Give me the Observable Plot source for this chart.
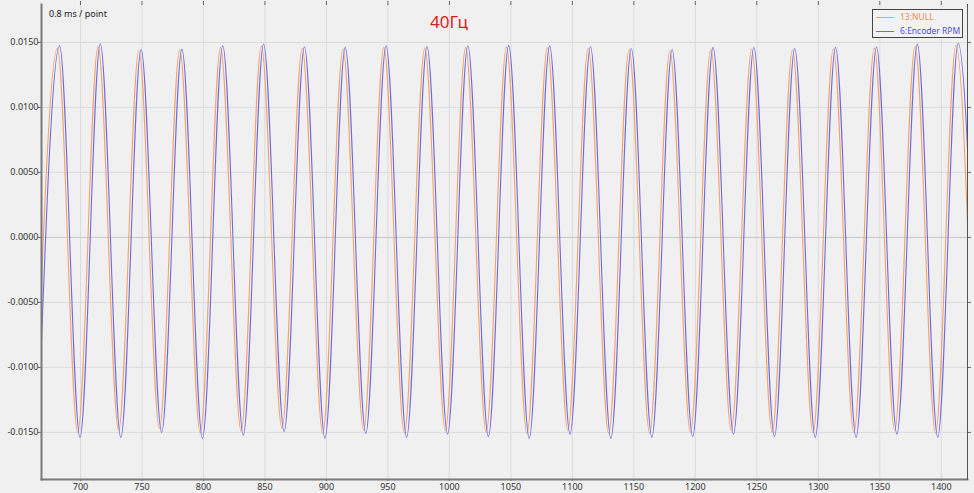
<!DOCTYPE html>
<html>
<head>
<meta charset="utf-8">
<script src="https://cdn.jsdelivr.net/npm/d3@7"></script>
<script src="https://cdn.jsdelivr.net/npm/@observablehq/plot@0.6"></script>
<style>
  html, body { margin: 0; padding: 0; background: #f0f0f0; }
  #wrap { position: relative; width: 974px; height: 493px; font-family: "Noto Sans", "Open Sans", sans-serif; }
  #wrap svg { position: absolute; left: 0; top: 0; }
  .note { position: absolute; left: 49px; top: 7px; font-size: 9px; color: #222; }
  .title { position: absolute; left: 430px; top: 13px; font-size: 17px; color: #e01b1b; line-height: 1; }
  .legend { position: absolute; left: 872px; top: 9px; width: 89px; height: 27px; border: 1px solid #444; background: #f2f2f2; font-size: 8.5px; }
  .legend .row { position: absolute; left: 3px; height: 12px; white-space: nowrap; }
  .legend .swatch { position: absolute; left: 0; top: 6px; width: 18px; height: 1px; }
  .legend .lbl { position: absolute; left: 24px; top: 0; line-height: 12px; white-space: nowrap; }
</style>
</head>
<body>
<div id="wrap">
  <div class="note">0.8 ms / point</div>
  <div class="title">40Гц</div>
  <div class="legend" id="legend"></div>
</div>
<script>
// Series names and colours
const seriesNames = ["13:NULL", "6:Encoder RPM"];
const seriesColors = ["#f4a36c", "#6c6ce2"];
const labelColors = ["#f08a4c", "#5050d6"];

// Axis ticks
const xTicks = [700, 750, 800, 850, 900, 950, 1000, 1050, 1100, 1150, 1200, 1250, 1300, 1350, 1400];
const yTicks = [-0.015, -0.01, -0.005, 0, 0.005, 0.01, 0.015];
const xDomain = [668.3, 1421.3];
const yDomain = [-0.01862, 0.01792];

// 6:Encoder RPM (blue) — extrema
const bluePeakX = [683.0, 716.1, 749.3, 782.5, 815.7, 848.9, 882.1, 915.3, 948.5, 981.8, 1015.0, 1048.2, 1081.5, 1114.7, 1147.9, 1181.1, 1214.4, 1247.6, 1280.8, 1314.0, 1347.3, 1380.5, 1413.7];
const bluePeakY = [0.01475, 0.01490, 0.01446, 0.01449, 0.01475, 0.01488, 0.01467, 0.01462, 0.01475, 0.01469, 0.01475, 0.01476, 0.01474, 0.01469, 0.01454, 0.01446, 0.01462, 0.01461, 0.01454, 0.01462, 0.01467, 0.01487, 0.01492];
const blueTroughX = [665.4, 699.6, 732.8, 766.0, 799.2, 832.4, 865.6, 898.8, 932.0, 965.2, 998.5, 1031.7, 1064.9, 1098.1, 1131.3, 1164.6, 1197.8, 1231.0, 1264.3, 1297.5, 1330.7, 1363.9, 1397.1, 1430.3];
const blueTroughY = [-0.0153, -0.01538, -0.01540, -0.01500, -0.01546, -0.01521, -0.01495, -0.01546, -0.01508, -0.01538, -0.01513, -0.01533, -0.01546, -0.01513, -0.01546, -0.01538, -0.01533, -0.01513, -0.01533, -0.01538, -0.01538, -0.01513, -0.01538, -0.0153];

// 13:NULL (orange) — extrema
const orangePeakX = [681.2, 714.3, 747.5, 780.7, 813.9, 847.1, 880.3, 913.5, 946.7, 980.0, 1013.2, 1046.4, 1079.7, 1112.9, 1146.1, 1179.3, 1212.6, 1245.8, 1279.0, 1312.2, 1345.5, 1378.7, 1411.9];
const orangePeakY = [0.01455, 0.01470, 0.01440, 0.01445, 0.01462, 0.01472, 0.01455, 0.01450, 0.01462, 0.01458, 0.01462, 0.01464, 0.01460, 0.01456, 0.01445, 0.01438, 0.01452, 0.01450, 0.01444, 0.01452, 0.01455, 0.01472, 0.01478];
const orangeTroughX = [663.6, 697.8, 731.0, 764.2, 797.4, 830.6, 863.8, 897.0, 930.2, 963.4, 996.7, 1029.9, 1063.1, 1096.3, 1129.5, 1162.8, 1196.0, 1229.2, 1262.5, 1295.7, 1328.9, 1362.1, 1395.3, 1427.0];
const orangeTroughY = [-0.0150, -0.01502, -0.01485, -0.01470, -0.01505, -0.01490, -0.01470, -0.01508, -0.01480, -0.01505, -0.01485, -0.01500, -0.01510, -0.01485, -0.01510, -0.01505, -0.01500, -0.01485, -0.01500, -0.01505, -0.01502, -0.01485, -0.01505, -0.0150];

function build(px, py, tx, ty) {
  const pts = px.map((x, i) => ({x, y: py[i]})).concat(tx.map((x, i) => ({x, y: ty[i]})));
  return pts.sort((a, b) => a.x - b.x);
}
const orange = build(orangePeakX, orangePeakY, orangeTroughX, orangeTroughY);
const blue = build(bluePeakX, bluePeakY, blueTroughX, blueTroughY);

const chart = Plot.plot({
  width: 974,
  height: 493,
  marginLeft: 41,
  marginRight: 7,
  marginTop: 4,
  marginBottom: 14,
  style: {background: "transparent", fontFamily: "'Noto Sans', 'Open Sans', sans-serif", fontSize: "9px", color: "#333"},
  x: {domain: xDomain, axis: null, label: null},
  y: {domain: yDomain, axis: null, label: null},
  marks: [
    Plot.gridX(xTicks, {stroke: "#dcdcdc", strokeOpacity: 1}),
    Plot.gridY(yTicks.filter(d => d !== 0), {stroke: "#dcdcdc", strokeOpacity: 1}),
    Plot.ruleY([0], {stroke: "#c6c6c6"}),
    Plot.line(orange, {x: "x", y: "y", curve: "monotone-x", stroke: seriesColors[0], strokeWidth: 1.1, clip: true}),
    Plot.line(blue, {x: "x", y: "y", curve: "monotone-x", stroke: seriesColors[1], strokeWidth: 1.1, clip: true}),
    Plot.axisX(xTicks, {anchor: "bottom", label: null, tickSize: 2, tickPadding: 2, tickFormat: d => String(d), stroke: "#666", fill: "#333"}),
    Plot.axisX(xTicks, {anchor: "top", label: null, tickSize: 4, text: null, stroke: "#666"}),
    Plot.axisY(yTicks, {anchor: "left", label: null, tickSize: 3, tickPadding: 0, tickFormat: d => d.toFixed(4), stroke: "#666", fill: "#333"}),
    Plot.axisY(yTicks, {anchor: "right", label: null, tickSize: 3, text: null, stroke: "#666"}),
    Plot.frame({anchor: "left", stroke: "#7a7a7a", strokeWidth: 2}),
    Plot.frame({anchor: "bottom", stroke: "#7a7a7a", strokeWidth: 2}),
    Plot.frame({anchor: "right", stroke: "#555", strokeWidth: 1})
  ]
});
const wrap = document.getElementById("wrap");
wrap.insertBefore(chart, wrap.firstChild);

const legend = document.getElementById("legend");
seriesNames.forEach((name, i) => {
  const row = document.createElement("div");
  row.className = "row";
  row.style.top = (1 + i * 14) + "px";
  row.innerHTML = `<span class="swatch" style="background:${seriesColors[i]}"></span><span class="lbl" style="color:${labelColors[i]}">${name}</span>`;
  legend.appendChild(row);
});
</script>
</body>
</html>
